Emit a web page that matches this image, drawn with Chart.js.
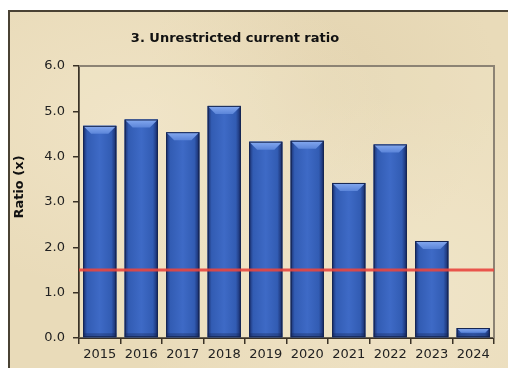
<!DOCTYPE html>
<html>
<head>
<meta charset="utf-8">
<script src="https://cdn.jsdelivr.net/npm/chart.js@4.4.0/dist/chart.umd.min.js"></script>
<style>
  html, body { margin: 0; padding: 0; background: #fff; width: 508px; height: 368px; overflow: hidden; }
  #box {
    position: absolute; left: 8px; top: 10px; width: 520px; height: 380px;
    border-top: 2px solid #4a4234; border-left: 2px solid #4a4234;
    background:
      radial-gradient(ellipse at 25% 30%, rgba(244,232,205,0.6), rgba(244,232,205,0) 45%),
      radial-gradient(ellipse at 75% 75%, rgba(245,234,210,0.5), rgba(245,234,210,0) 50%),
      radial-gradient(ellipse at 60% 20%, rgba(222,205,168,0.5), rgba(222,205,168,0) 40%),
      #e9dbb9;
  }
  #wrap { position: absolute; left: 0; top: 0; width: 508px; height: 368px; }
</style>
</head>
<body>
<div id="box"></div>
<div id="wrap"><canvas id="ratioChart" width="508" height="368"></canvas></div>
<script>
// data
const years = ["2015", "2016", "2017", "2018", "2019", "2020", "2021", "2022", "2023", "2024"];
const ratioValues = [4.68, 4.82, 4.54, 5.12, 4.33, 4.35, 3.42, 4.27, 2.14, 0.22];
const thresholdValue = 1.5;
const chartTitle = "3. Unrestricted current ratio";
const yAxisTitle = "Ratio (x)";

const font = "'DejaVu Sans', Verdana, sans-serif";

// bevelled blue bars, drawn over the plain bars
const bevelBars = {
  id: "bevelBars",
  afterDatasetDraw(chart, args) {
    if (args.index !== 0) return;
    const ctx = chart.ctx;
    chart.getDatasetMeta(0).data.forEach(function (bar) {
      const p = bar.getProps(["x", "y", "base", "width"], true);
      const left = p.x - p.width / 2;
      const right = p.x + p.width / 2;
      const top = p.y;
      const bottom = p.base;
      const h = bottom - top;
      const b = Math.min(8, h / 2);

      ctx.save();
      let g = ctx.createLinearGradient(left, 0, right, 0);
      g.addColorStop(0, "#1a3070");
      g.addColorStop(0.12, "#325cb3");
      g.addColorStop(0.5, "#3e6ac6");
      g.addColorStop(0.85, "#325cb3");
      g.addColorStop(1, "#172a66");
      ctx.fillStyle = g;
      ctx.fillRect(left, top, p.width, h);

      // top bevel
      let tg = ctx.createLinearGradient(0, top, 0, top + b);
      tg.addColorStop(0, "#86aaf0");
      tg.addColorStop(1, "#5b85d9");
      ctx.fillStyle = tg;
      ctx.beginPath();
      ctx.moveTo(left, top);
      ctx.lineTo(right, top);
      ctx.lineTo(right - b, top + b);
      ctx.lineTo(left + b, top + b);
      ctx.closePath();
      ctx.fill();

      // bottom shade
      ctx.fillStyle = "rgba(20,35,80,0.35)";
      ctx.fillRect(left, bottom - 4, p.width, 4);

      ctx.strokeStyle = "#14244f";
      ctx.lineWidth = 1;
      ctx.strokeRect(left + 0.5, top + 0.5, p.width - 1, h - 1);
      ctx.restore();
    });
  },
};

// frame, red threshold line, titles
const decorations = {
  id: "decorations",
  beforeDatasetsDraw(chart) {
    const ctx = chart.ctx;
    const a = chart.chartArea;
    ctx.save();
    ctx.fillStyle = "rgba(245,234,208,0.25)";
    ctx.fillRect(a.left, a.top, a.right - a.left, a.bottom - a.top);
    ctx.strokeStyle = "#8c8374";
    ctx.lineWidth = 2;
    ctx.beginPath();
    ctx.moveTo(a.left, a.top);
    ctx.lineTo(a.right, a.top);
    ctx.lineTo(a.right, a.bottom);
    ctx.stroke();
    ctx.restore();
  },
  afterDatasetsDraw(chart) {
    const ctx = chart.ctx;
    const a = chart.chartArea;
    const y = chart.scales.y.getPixelForValue(thresholdValue);
    ctx.save();
    ctx.strokeStyle = "rgba(232,70,62,0.9)";
    ctx.lineWidth = 3;
    ctx.beginPath();
    ctx.moveTo(a.left, y);
    ctx.lineTo(a.right, y);
    ctx.stroke();

    ctx.fillStyle = "#111";
    ctx.font = "bold 13px " + font;
    ctx.textAlign = "center";
    ctx.textBaseline = "middle";
    ctx.fillText(chartTitle, 235, 39);

    ctx.translate(20, 187);
    ctx.rotate(-Math.PI / 2);
    ctx.font = "bold 13px " + font;
    ctx.fillText(yAxisTitle, 0, 0);
    ctx.restore();
  },
};

const ctx = document.getElementById("ratioChart").getContext("2d");
new Chart(ctx, {
  type: "bar",
  data: {
    labels: years,
    datasets: [
      {
        label: "Unrestricted current ratio",
        data: ratioValues,
        backgroundColor: "#3d68c2",
        borderWidth: 0,
        barPercentage: 0.8,
        categoryPercentage: 1.0,
      },
    ],
  },
  options: {
    responsive: false,
    animation: false,
    layout: { padding: { left: 0, right: 14, top: 66, bottom: 0 } },
    plugins: {
      legend: { display: false },
      title: { display: false },
      tooltip: { enabled: false },
    },
    scales: {
      x: {
        afterFit: function (scale) { scale.height = 30; },
        grid: { display: true, drawOnChartArea: false, drawTicks: true, tickLength: 6, color: "#3a3226", lineWidth: 1.5, offset: true },
        border: { display: true, color: "#3a3226", width: 2 },
        ticks: { color: "#222", font: { family: font, size: 13 }, padding: 3, maxRotation: 0 },
      },
      y: {
        min: 0,
        max: 6,
        afterFit: function (scale) { scale.width = 79; },
        grid: { display: true, drawOnChartArea: false, drawTicks: true, tickLength: 6, color: "#3a3226", lineWidth: 1.5 },
        border: { display: true, color: "#3a3226", width: 2 },
        ticks: {
          stepSize: 1,
          color: "#222",
          font: { family: font, size: 13 },
          padding: 8,
          callback: function (v) { return Number(v).toFixed(1); },
        },
      },
    },
  },
  plugins: [bevelBars, decorations],
});
</script>
</body>
</html>
